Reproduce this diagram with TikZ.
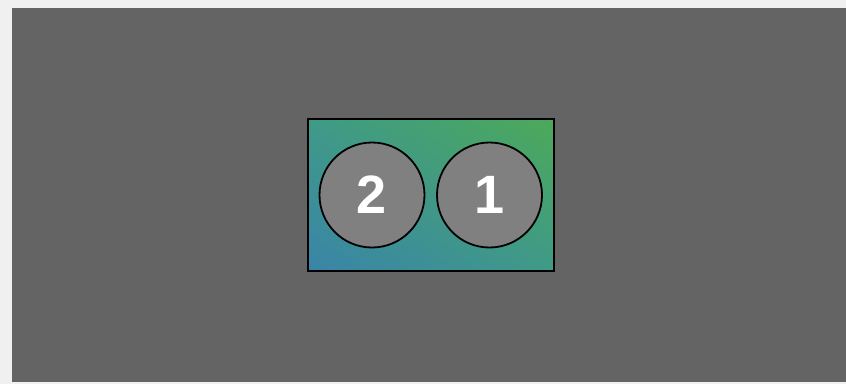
\documentclass[tikz,border=0pt]{standalone}
\usepackage{fontspec}
\setmainfont{Liberation Sans}
\usetikzlibrary{shadings}
\definecolor{outerbg}{HTML}{F0F0F0}
\definecolor{panel}{HTML}{646464}
\definecolor{blueend}{HTML}{3A84A8}
\definecolor{greenend}{HTML}{4CA958}
\definecolor{midteal}{HTML}{3F9A88}
\definecolor{discfill}{HTML}{808080}
\begin{document}
\begin{tikzpicture}[x=1pt,y=-1pt,
  disc/.style={circle,draw=black,line width=1.8pt,fill=discfill,minimum size=105pt,inner sep=0pt,
    text=white,font=\fontsize{54}{54}\selectfont\bfseries}]
\fill[outerbg] (0,0) rectangle (846,384);
\useasboundingbox (0,0) rectangle (846,384);
\fill[panel] (12,8) rectangle (846,382);
\shade[lower left=blueend,upper right=greenend,upper left=midteal,lower right=midteal] (308,119) rectangle (554,271);
\draw[line width=2pt] (308,119) rectangle (554,271);
\node[disc] (two) at (372,195) {2};
\node[disc] (one) at (489.5,195) {1};
\end{tikzpicture}
\end{document}
